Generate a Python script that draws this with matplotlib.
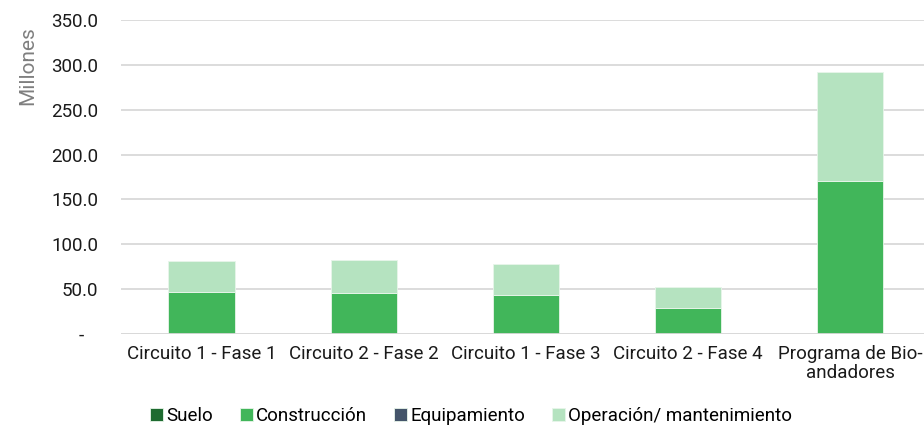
import matplotlib.pyplot as plt
import numpy as np
from matplotlib.ticker import FuncFormatter

plt.rcParams['font.family'] = ['Roboto', 'DejaVu Sans']

categorias = ["Circuito 1 - Fase 1", "Circuito 2 - Fase 2", "Circuito 1 - Fase 3",
              "Circuito 2 - Fase 4", "Programa de Bio-\nandadores"]
suelo = [0.0, 0.0, 0.0, 0.0, 0.0]
construccion = [46.5, 46.0, 43.8, 29.0, 171.0]
equipamiento = [0.0, 0.0, 0.0, 0.0, 0.0]
operacion = [35.2, 36.5, 34.2, 23.8, 121.4]

series = [
    ("Suelo", suelo, "#1E6B30"),
    ("Construcción", construccion, "#41B65A"),
    ("Equipamiento", equipamiento, "#44546A"),
    ("Operación/ mantenimiento", operacion, "#B5E3C0"),
]

fig = plt.figure(figsize=(9.24, 4.25), dpi=100)
ax = fig.add_axes([0.1306, 0.2141, 0.877, 0.7388])

x = np.arange(len(categorias))
bottom = np.zeros(len(categorias))
for nombre, vals, color in series:
    ax.bar(x, vals, bottom=bottom, width=0.41, color=color, label=nombre,
           edgecolor="#E8F5EA", linewidth=0.6, zorder=2)
    bottom += np.array(vals)

ax.set_xlim(-0.5, len(categorias) - 0.5)
ax.set_ylim(0, 350)
ax.set_yticks(np.arange(0, 351, 50))
# accounting-style format: zero shown as a dash
ax.yaxis.set_major_formatter(FuncFormatter(lambda v, _: "-   " if v == 0 else f"{v:.1f}"))
ax.grid(axis="y", color="#D9D9D9", linewidth=1.3, zorder=0)
ax.axhline(0, color="#D9D9D9", linewidth=1.3, zorder=3)
ax.set_axisbelow(True)

for s in ax.spines.values():
    s.set_visible(False)
ax.tick_params(axis="both", length=0, labelsize=13.5, colors="#1A1A1A")
ax.tick_params(axis="y", pad=16)
ax.tick_params(axis="x", pad=8)
ax.set_xticks(x)
ax.set_xticklabels(categorias, linespacing=1.05)

ax.set_ylabel("Millones", fontsize=15, color="#7F7F7F")
ax.yaxis.set_label_coords(-0.103, 0.855)

fig.legend(loc="lower center", bbox_to_anchor=(0.51, -0.04), ncol=4, frameon=False,
           fontsize=13.5, handlelength=0.7, handleheight=0.7, handletextpad=0.15,
           columnspacing=1.45)

fig.savefig("out.png", dpi=100)
